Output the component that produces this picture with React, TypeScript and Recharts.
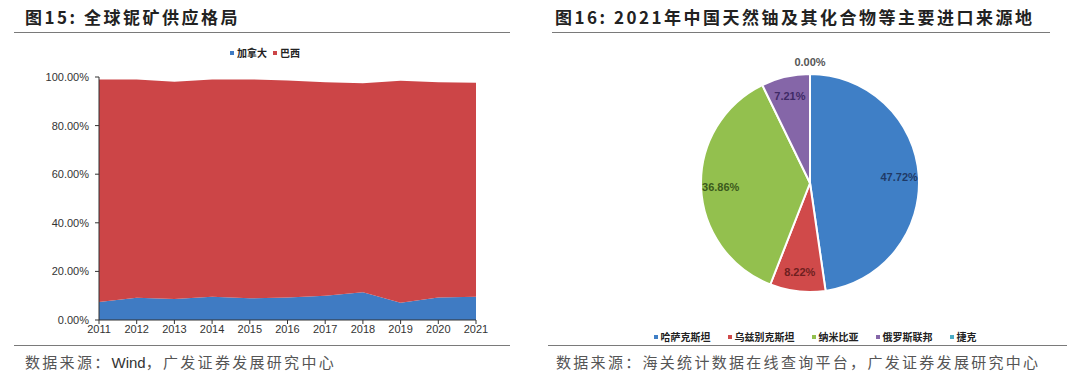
import React from "react";
import {
  AreaChart,
  Area,
  XAxis,
  YAxis,
  Legend,
  PieChart,
  Pie,
  Cell,
} from "recharts";

// 图15 全球铌矿供应格局 (%)
const years = ["2011", "2012", "2013", "2014", "2015", "2016", "2017", "2018", "2019", "2020", "2021"];
const canada = [7.4, 9.2, 8.6, 9.6, 8.9, 9.3, 10.0, 11.4, 7.1, 9.3, 9.6];
const brazil = [91.6, 89.8, 89.4, 89.4, 90.1, 89.3, 87.8, 86.0, 91.4, 88.5, 88.0];
const yTicks = [0, 20, 40, 60, 80, 100];
const supplyNames = ["加拿大", "巴西"];

// 图16 2021年中国天然铀及其化合物等主要进口来源地
const origins = ["哈萨克斯坦", "乌兹别克斯坦", "纳米比亚", "俄罗斯联邦", "捷克"];
const shares = [47.72, 8.22, 36.86, 7.21, 0.0];
const pieColors = ["#3f7fc6", "#d04a4a", "#93c04e", "#8566a8", "#4bacc6"];
const labelColors = ["#1f3a66", "#6e1f1f", "#3b5a1c", "#3f2a66", "#555555"];

const supplyData = years.map((y, i) => ({ year: y, canada: canada[i], brazil: brazil[i] }));
const pieData = origins.map((name, i) => ({ name, value: shares[i] }));

const SANS = "'Liberation Sans', Arial, sans-serif";
const CJK = "'Noto Sans CJK SC', sans-serif";
const RAD = Math.PI / 180;

const titleStyle: React.CSSProperties = {
  position: "absolute",
  top: 6,
  fontFamily: CJK,
  fontWeight: 700,
  fontSize: 17,
  letterSpacing: 2.5,
  color: "#222",
  lineHeight: "22px",
  whiteSpace: "nowrap",
};

const sourceStyle: React.CSSProperties = {
  position: "absolute",
  top: 351,
  fontFamily: CJK,
  fontSize: 15,
  letterSpacing: 2.3,
  color: "#555",
  lineHeight: "22px",
  whiteSpace: "nowrap",
};

const rule = (left: number, top: number, width: number): React.CSSProperties => ({
  position: "absolute",
  left,
  top,
  width,
  height: 0,
  borderTop: "1.5px solid #7a7a7a",
});

// legend row kept in the original series order
const LegendRow = ({ payload, gap, order }: any) => {
  const items = [...(payload || [])].sort(
    (a: any, b: any) => order.indexOf(a.value) - order.indexOf(b.value)
  );
  return (
    <div style={{ display: "flex", justifyContent: "center", gap, fontFamily: CJK, fontWeight: 700, fontSize: 10, color: "#222" }}>
      {items.map((p: any) => (
        <span key={p.value} style={{ display: "inline-flex", alignItems: "center" }}>
          <span style={{ width: 4, height: 4, background: p.color, marginRight: 3, display: "inline-block" }} />
          {p.value}
        </span>
      ))}
    </div>
  );
};

const renderPieLabel = (props: any) => {
  const { cx, cy, midAngle, outerRadius, value, index } = props;
  const r = value === 0 ? outerRadius + 12 : outerRadius * 0.82;
  const x = cx + r * Math.cos(-midAngle * RAD);
  const y = cy + r * Math.sin(-midAngle * RAD);
  return (
    <text
      x={x}
      y={y}
      textAnchor="middle"
      dominantBaseline="central"
      fontFamily={SANS}
      fontWeight={700}
      fontSize={11}
      fill={labelColors[index]}
    >
      {value.toFixed(2)}%
    </text>
  );
};

export default function App() {
  return (
    <div style={{ position: "absolute", left: 0, top: 0, width: 1080, height: 381, background: "#fff", overflow: "hidden" }}>
      <div style={{ ...titleStyle, left: 25 }}>图15: 全球铌矿供应格局</div>
      <div style={{ ...titleStyle, left: 555 }}>图16: 2021年中国天然铀及其化合物等主要进口来源地</div>
      <div style={rule(14, 32, 496)} />
      <div style={rule(552, 32, 498)} />

      <div style={{ position: "absolute", left: 0, top: 0 }}>
        <AreaChart width={540} height={345} data={supplyData} margin={{ top: 77, right: 64, bottom: 5, left: 0 }}>
          <XAxis
            dataKey="year"
            height={20}
            tick={{ fill: "#333", fontSize: 11, fontFamily: SANS }}
            tickSize={4}
            tickMargin={1}
            axisLine={{ stroke: "#333" }}
            tickLine={{ stroke: "#333" }}
            interval={0}
          />
          <YAxis
            width={99}
            domain={[0, 100]}
            ticks={yTicks}
            tickFormatter={(v: number) => `${v.toFixed(2)}%`}
            tick={{ fill: "#333", fontSize: 11, fontFamily: SANS }}
            tickSize={4}
            tickMargin={6}
            axisLine={{ stroke: "#333" }}
            tickLine={{ stroke: "#333" }}
          />
          <Legend
            layout="horizontal"
            align="center"
            verticalAlign="middle"
            wrapperStyle={{ top: 45, left: 0, width: 530 }}
            content={(p: any) => <LegendRow payload={p.payload} gap={6} order={supplyNames} />}
          />
          <Area
            type="linear"
            dataKey="canada"
            name={supplyNames[0]}
            stackId="s"
            stroke="none"
            fill="#3f7bc3"
            fillOpacity={1}
            isAnimationActive={false}
          />
          <Area
            type="linear"
            dataKey="brazil"
            name={supplyNames[1]}
            stackId="s"
            stroke="none"
            fill="#cc4547"
            fillOpacity={1}
            isAnimationActive={false}
          />
        </AreaChart>
      </div>

      <div style={{ position: "absolute", left: 540, top: 0 }}>
        <PieChart width={540} height={345} margin={{ top: 0, right: 0, bottom: 0, left: 0 }}>
          <Pie
            data={pieData}
            dataKey="value"
            nameKey="name"
            cx={270}
            cy={183}
            outerRadius={109}
            startAngle={90}
            endAngle={-270}
            stroke="#fff"
            strokeWidth={2}
            label={renderPieLabel}
            labelLine={false}
            isAnimationActive={false}
          >
            {pieData.map((d, i) => (
              <Cell key={d.name} fill={pieColors[i]} />
            ))}
          </Pie>
          <Legend
            layout="horizontal"
            align="center"
            verticalAlign="middle"
            wrapperStyle={{ top: 329, left: 0, width: 550 }}
            content={(p: any) => <LegendRow payload={p.payload} gap={17} order={origins} />}
          />
        </PieChart>
      </div>

      <div style={rule(14, 345, 496)} />
      <div style={rule(548, 345, 519)} />
      <div style={{ ...sourceStyle, left: 25 }}>
        数据来源：<span style={{ fontFamily: SANS, letterSpacing: 0, color: "#333" }}>Wind</span>，广发证券发展研究中心
      </div>
      <div style={{ ...sourceStyle, left: 556 }}>数据来源：海关统计数据在线查询平台，广发证券发展研究中心</div>
    </div>
  );
}
